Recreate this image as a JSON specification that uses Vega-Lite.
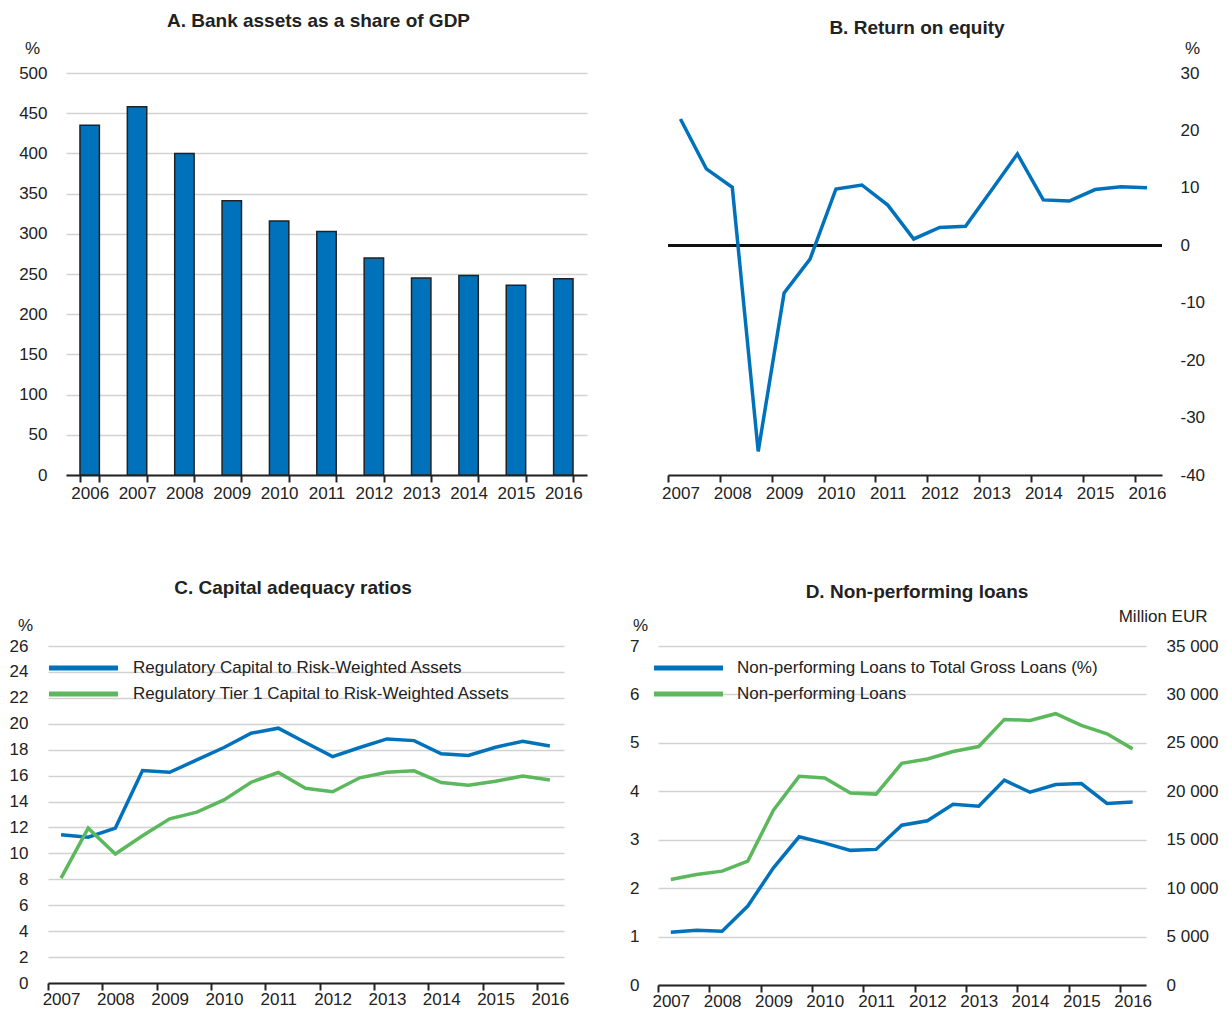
{
  "$schema": "https://vega.github.io/schema/vega-lite/v6.json",
  "background": "white",
  "padding": {"top": 12, "left": 9, "right": 5, "bottom": 1},
  "config": {
    "font": "Liberation Sans",
    "view": {"stroke": null},
    "axis": {
      "labelFont": "Liberation Sans", "labelFontSize": 17, "labelColor": "#222222",
      "titleFont": "Liberation Sans", "titleFontSize": 17, "titleFontWeight": "normal", "titleColor": "#222222",
      "gridColor": "#d2d2d2", "gridWidth": 1.5,
      "domainColor": "#222222", "domainWidth": 2,
      "tickColor": "#222222", "tickWidth": 2, "tickSize": 7
    },
    "title": {"font": "Liberation Sans", "fontSize": 19, "fontWeight": "bold", "color": "#222222"},
    "legend": {"labelFont": "Liberation Sans", "labelFontSize": 17, "labelColor": "#222222"}
  },
  "datasets": {
    "bank": [
      {"year": "2006", "value": 435}, {"year": "2007", "value": 458}, {"year": "2008", "value": 400},
      {"year": "2009", "value": 341}, {"year": "2010", "value": 316}, {"year": "2011", "value": 303},
      {"year": "2012", "value": 270}, {"year": "2013", "value": 245}, {"year": "2014", "value": 248},
      {"year": "2015", "value": 236}, {"year": "2016", "value": 244}
    ],
    "roe": [
      {"t": 2007.0, "value": 22.0}, {"t": 2007.5, "value": 13.3}, {"t": 2008.0, "value": 10.1},
      {"t": 2008.5, "value": -35.9}, {"t": 2009.0, "value": -8.3}, {"t": 2009.5, "value": -2.4},
      {"t": 2010.0, "value": 9.8}, {"t": 2010.5, "value": 10.5}, {"t": 2011.0, "value": 7.0},
      {"t": 2011.5, "value": 1.1}, {"t": 2012.0, "value": 3.1}, {"t": 2012.5, "value": 3.3},
      {"t": 2013.0, "value": 9.6}, {"t": 2013.5, "value": 15.9}, {"t": 2014.0, "value": 7.9},
      {"t": 2014.5, "value": 7.7}, {"t": 2015.0, "value": 9.7}, {"t": 2015.5, "value": 10.2},
      {"t": 2016.0, "value": 10.0}
    ],
    "car": [
      {"t": 2007.0, "series": "Regulatory Capital to Risk-Weighted Assets", "value": 11.43},
      {"t": 2007.5, "series": "Regulatory Capital to Risk-Weighted Assets", "value": 11.25},
      {"t": 2008.0, "series": "Regulatory Capital to Risk-Weighted Assets", "value": 11.95},
      {"t": 2008.5, "series": "Regulatory Capital to Risk-Weighted Assets", "value": 16.39},
      {"t": 2009.0, "series": "Regulatory Capital to Risk-Weighted Assets", "value": 16.26},
      {"t": 2009.5, "series": "Regulatory Capital to Risk-Weighted Assets", "value": 17.21},
      {"t": 2010.0, "series": "Regulatory Capital to Risk-Weighted Assets", "value": 18.17},
      {"t": 2010.5, "series": "Regulatory Capital to Risk-Weighted Assets", "value": 19.27},
      {"t": 2011.0, "series": "Regulatory Capital to Risk-Weighted Assets", "value": 19.66},
      {"t": 2011.5, "series": "Regulatory Capital to Risk-Weighted Assets", "value": 18.55},
      {"t": 2012.0, "series": "Regulatory Capital to Risk-Weighted Assets", "value": 17.47},
      {"t": 2012.5, "series": "Regulatory Capital to Risk-Weighted Assets", "value": 18.17},
      {"t": 2013.0, "series": "Regulatory Capital to Risk-Weighted Assets", "value": 18.83},
      {"t": 2013.5, "series": "Regulatory Capital to Risk-Weighted Assets", "value": 18.70},
      {"t": 2014.0, "series": "Regulatory Capital to Risk-Weighted Assets", "value": 17.68},
      {"t": 2014.5, "series": "Regulatory Capital to Risk-Weighted Assets", "value": 17.55},
      {"t": 2015.0, "series": "Regulatory Capital to Risk-Weighted Assets", "value": 18.19},
      {"t": 2015.5, "series": "Regulatory Capital to Risk-Weighted Assets", "value": 18.65},
      {"t": 2016.0, "series": "Regulatory Capital to Risk-Weighted Assets", "value": 18.29},
      {"t": 2007.0, "series": "Regulatory Tier 1 Capital to Risk-Weighted Assets", "value": 8.09},
      {"t": 2007.5, "series": "Regulatory Tier 1 Capital to Risk-Weighted Assets", "value": 11.95},
      {"t": 2008.0, "series": "Regulatory Tier 1 Capital to Risk-Weighted Assets", "value": 9.95},
      {"t": 2008.5, "series": "Regulatory Tier 1 Capital to Risk-Weighted Assets", "value": 11.36},
      {"t": 2009.0, "series": "Regulatory Tier 1 Capital to Risk-Weighted Assets", "value": 12.67},
      {"t": 2009.5, "series": "Regulatory Tier 1 Capital to Risk-Weighted Assets", "value": 13.18},
      {"t": 2010.0, "series": "Regulatory Tier 1 Capital to Risk-Weighted Assets", "value": 14.13},
      {"t": 2010.5, "series": "Regulatory Tier 1 Capital to Risk-Weighted Assets", "value": 15.49},
      {"t": 2011.0, "series": "Regulatory Tier 1 Capital to Risk-Weighted Assets", "value": 16.24},
      {"t": 2011.5, "series": "Regulatory Tier 1 Capital to Risk-Weighted Assets", "value": 15.03},
      {"t": 2012.0, "series": "Regulatory Tier 1 Capital to Risk-Weighted Assets", "value": 14.75},
      {"t": 2012.5, "series": "Regulatory Tier 1 Capital to Risk-Weighted Assets", "value": 15.83},
      {"t": 2013.0, "series": "Regulatory Tier 1 Capital to Risk-Weighted Assets", "value": 16.26},
      {"t": 2013.5, "series": "Regulatory Tier 1 Capital to Risk-Weighted Assets", "value": 16.37},
      {"t": 2014.0, "series": "Regulatory Tier 1 Capital to Risk-Weighted Assets", "value": 15.47},
      {"t": 2014.5, "series": "Regulatory Tier 1 Capital to Risk-Weighted Assets", "value": 15.26},
      {"t": 2015.0, "series": "Regulatory Tier 1 Capital to Risk-Weighted Assets", "value": 15.57},
      {"t": 2015.5, "series": "Regulatory Tier 1 Capital to Risk-Weighted Assets", "value": 15.96},
      {"t": 2016.0, "series": "Regulatory Tier 1 Capital to Risk-Weighted Assets", "value": 15.67}
    ],
    "npl": [
      {"t": 2007.0, "series": "Non-performing Loans to Total Gross Loans (%)", "value": 1.09},
      {"t": 2007.5, "series": "Non-performing Loans to Total Gross Loans (%)", "value": 1.13},
      {"t": 2008.0, "series": "Non-performing Loans to Total Gross Loans (%)", "value": 1.11},
      {"t": 2008.5, "series": "Non-performing Loans to Total Gross Loans (%)", "value": 1.63},
      {"t": 2009.0, "series": "Non-performing Loans to Total Gross Loans (%)", "value": 2.42},
      {"t": 2009.5, "series": "Non-performing Loans to Total Gross Loans (%)", "value": 3.06},
      {"t": 2010.0, "series": "Non-performing Loans to Total Gross Loans (%)", "value": 2.93},
      {"t": 2010.5, "series": "Non-performing Loans to Total Gross Loans (%)", "value": 2.78},
      {"t": 2011.0, "series": "Non-performing Loans to Total Gross Loans (%)", "value": 2.80},
      {"t": 2011.5, "series": "Non-performing Loans to Total Gross Loans (%)", "value": 3.30},
      {"t": 2012.0, "series": "Non-performing Loans to Total Gross Loans (%)", "value": 3.39},
      {"t": 2012.5, "series": "Non-performing Loans to Total Gross Loans (%)", "value": 3.73},
      {"t": 2013.0, "series": "Non-performing Loans to Total Gross Loans (%)", "value": 3.69},
      {"t": 2013.5, "series": "Non-performing Loans to Total Gross Loans (%)", "value": 4.23},
      {"t": 2014.0, "series": "Non-performing Loans to Total Gross Loans (%)", "value": 3.98},
      {"t": 2014.5, "series": "Non-performing Loans to Total Gross Loans (%)", "value": 4.14},
      {"t": 2015.0, "series": "Non-performing Loans to Total Gross Loans (%)", "value": 4.16},
      {"t": 2015.5, "series": "Non-performing Loans to Total Gross Loans (%)", "value": 3.75},
      {"t": 2016.0, "series": "Non-performing Loans to Total Gross Loans (%)", "value": 3.78},
      {"t": 2007.0, "series": "Non-performing Loans", "value": 10892},
      {"t": 2007.5, "series": "Non-performing Loans", "value": 11411},
      {"t": 2008.0, "series": "Non-performing Loans", "value": 11757},
      {"t": 2008.5, "series": "Non-performing Loans", "value": 12794},
      {"t": 2009.0, "series": "Non-performing Loans", "value": 18050},
      {"t": 2009.5, "series": "Non-performing Loans", "value": 21542},
      {"t": 2010.0, "series": "Non-performing Loans", "value": 21369},
      {"t": 2010.5, "series": "Non-performing Loans", "value": 19813},
      {"t": 2011.0, "series": "Non-performing Loans", "value": 19710},
      {"t": 2011.5, "series": "Non-performing Loans", "value": 22891},
      {"t": 2012.0, "series": "Non-performing Loans", "value": 23340},
      {"t": 2012.5, "series": "Non-performing Loans", "value": 24101},
      {"t": 2013.0, "series": "Non-performing Loans", "value": 24620},
      {"t": 2013.5, "series": "Non-performing Loans", "value": 27420},
      {"t": 2014.0, "series": "Non-performing Loans", "value": 27317},
      {"t": 2014.5, "series": "Non-performing Loans", "value": 28008},
      {"t": 2015.0, "series": "Non-performing Loans", "value": 26798},
      {"t": 2015.5, "series": "Non-performing Loans", "value": 25934},
      {"t": 2016.0, "series": "Non-performing Loans", "value": 24378}
    ]
  },
  "bounds": "flush",
  "spacing": 573,
  "resolve": {"scale": {"color": "independent"}, "legend": {"color": "independent"}},
  "vconcat": [
    {
      "bounds": "flush",
      "spacing": 81,
      "resolve": {"scale": {"color": "independent"}, "legend": {"color": "independent"}},
      "hconcat": [
        {
          "width": 539, "height": 402,
          "title": {"text": "A. Bank assets as a share of GDP", "offset": 8, "dx": 1},
          "data": {"name": "bank"},
          "mark": {"type": "bar", "color": "#0072BC", "stroke": "#222222", "strokeWidth": 1.5},
          "encoding": {
            "x": {"field": "year", "type": "ordinal",
                  "scale": {"range": [18, 539], "paddingInner": 0.59, "paddingOuter": 0.295},
                  "axis": {"title": null, "labelAngle": 0, "tickBand": "extent", "grid": false, "labelPadding": 3}},
            "y": {"field": "value", "type": "quantitative",
                  "scale": {"domain": [0, 500], "nice": false},
                  "axis": {"values": [0, 50, 100, 150, 200, 250, 300, 350, 400, 450, 500],
                           "ticks": false, "tickSize": 0, "domain": false, "labelPadding": 1,
                           "title": "%", "titleAngle": 0, "titleAlign": "center", "titleBaseline": "alphabetic",
                           "titleX": -16, "titleY": -20}}
          }
        },
        {
          "width": 494, "height": 402,
          "title": {"text": "B. Return on equity", "offset": 1, "dx": 2},
          "data": {"name": "roe"},
          "layer": [
            {
              "mark": {"type": "rule", "color": "#111111", "strokeWidth": 2},
              "encoding": {"y": {"datum": 0, "type": "quantitative"}}
            },
            {
              "mark": {"type": "line", "color": "#0072BC", "strokeWidth": 3.5},
              "encoding": {
                "x": {"field": "t", "type": "quantitative",
                      "scale": {"domain": [2006.76, 2016.29], "nice": false, "zero": false},
                      "axis": {"title": null, "values": [2007, 2008, 2009, 2010, 2011, 2012, 2013, 2014, 2015, 2016],
                               "format": "d", "grid": false, "tickOffset": -12.4, "labelOffset": 12.4,
                               "labelFlush": false, "labelOverlap": false, "labelPadding": 3}},
                "y": {"field": "value", "type": "quantitative",
                      "scale": {"domain": [-40, 30], "nice": false},
                      "axis": {"orient": "right", "values": [-40, -30, -20, -10, 0, 10, 20, 30],
                               "labelExpr": "'' + datum.value",
                               "ticks": false, "tickSize": 0, "domain": false, "labelPadding": 18,
                               "title": "%", "titleAngle": 0, "titleAlign": "center", "titleBaseline": "alphabetic",
                               "titleX": 30, "titleY": -20}}
              }
            }
          ]
        }
      ]
    },
    {
      "bounds": "flush",
      "spacing": 94,
      "resolve": {"scale": {"color": "independent"}, "legend": {"color": "independent"}},
      "hconcat": [
        {
          "width": 516, "height": 337,
          "title": {"text": "C. Capital adequacy ratios", "offset": 18, "dx": -13},
          "data": {"name": "car"},
          "mark": {"type": "line", "strokeWidth": 3.5},
          "encoding": {
            "x": {"field": "t", "type": "quantitative",
                  "scale": {"domain": [2006.76, 2016.26], "nice": false, "zero": false},
                  "axis": {"title": null, "values": [2007, 2008, 2009, 2010, 2011, 2012, 2013, 2014, 2015, 2016],
                           "format": "d", "grid": false, "tickOffset": -13, "labelOffset": 13,
                           "labelFlush": false, "labelOverlap": false, "labelPadding": 1}},
            "y": {"field": "value", "type": "quantitative",
                  "scale": {"domain": [0, 26], "nice": false},
                  "axis": {"values": [0, 2, 4, 6, 8, 10, 12, 14, 16, 18, 20, 22, 24, 26],
                           "ticks": false, "tickSize": 0, "domain": false, "labelPadding": 20,
                           "title": "%", "titleAngle": 0, "titleAlign": "center", "titleBaseline": "alphabetic",
                           "titleX": -23, "titleY": -16}},
            "color": {"field": "series", "type": "nominal",
                      "scale": {"domain": ["Regulatory Capital to Risk-Weighted Assets", "Regulatory Tier 1 Capital to Risk-Weighted Assets"],
                                "range": ["#0072BC", "#5CB85C"]},
                      "legend": {"orient": "none", "legendX": 24, "legendY": 10.5, "title": null,
                                 "symbolType": "M-4,0H4", "symbolSize": 298, "symbolStrokeWidth": 5,
                                 "labelOffset": 38, "rowPadding": 4, "labelLimit": 0}}
          }
        },
        {
          "width": 488, "height": 339,
          "title": {"text": "D. Non-performing loans", "offset": 5, "dx": 15},
          "data": {"name": "npl"},
          "resolve": {"scale": {"y": "independent"}},
          "layer": [
            {
              "transform": [{"filter": "datum.series === 'Non-performing Loans to Total Gross Loans (%)'"}],
              "mark": {"type": "line", "strokeWidth": 3.5},
              "encoding": {
                "x": {"field": "t", "type": "quantitative",
                      "scale": {"domain": [2006.75, 2016.26], "nice": false, "zero": false},
                      "axis": {"title": null, "values": [2007, 2008, 2009, 2010, 2011, 2012, 2013, 2014, 2015, 2016],
                               "format": "d", "grid": false, "tickOffset": -12.8, "labelOffset": 12.8,
                               "labelFlush": false, "labelOverlap": false, "labelPadding": 1}},
                "y": {"field": "value", "type": "quantitative",
                      "scale": {"domain": [0, 7], "nice": false},
                      "axis": {"orient": "left", "values": [0, 1, 2, 3, 4, 5, 6, 7],
                               "ticks": false, "tickSize": 0, "domain": false, "labelPadding": 19,
                               "title": "%", "titleAngle": 0, "titleAlign": "center", "titleBaseline": "alphabetic",
                               "titleX": -18, "titleY": -16}},
                "color": {"field": "series", "type": "nominal",
                          "scale": {"domain": ["Non-performing Loans to Total Gross Loans (%)", "Non-performing Loans"],
                                    "range": ["#0072BC", "#5CB85C"]},
                          "legend": {"orient": "none", "legendX": 19, "legendY": 10.5, "title": null,
                                     "symbolType": "M-4,0H4", "symbolSize": 298, "symbolStrokeWidth": 5,
                                     "labelOffset": 37, "rowPadding": 4, "labelLimit": 0}}
              }
            },
            {
              "transform": [{"filter": "datum.series === 'Non-performing Loans'"}],
              "mark": {"type": "line", "strokeWidth": 3.5},
              "encoding": {
                "x": {"field": "t", "type": "quantitative"},
                "y": {"field": "value", "type": "quantitative",
                      "scale": {"domain": [0, 35000], "nice": false},
                      "axis": {"orient": "right", "values": [0, 5000, 10000, 15000, 20000, 25000, 30000, 35000],
                               "labelExpr": "replace(format(datum.value, ','), ',', ' ')",
                               "grid": false, "ticks": false, "tickSize": 0, "domain": false, "labelPadding": 20,
                               "title": "Million EUR", "titleAngle": 0, "titleAlign": "right", "titleBaseline": "alphabetic",
                               "titleX": 61, "titleY": -25}},
                "color": {"field": "series", "type": "nominal"}
              }
            }
          ]
        }
      ]
    }
  ]
}
